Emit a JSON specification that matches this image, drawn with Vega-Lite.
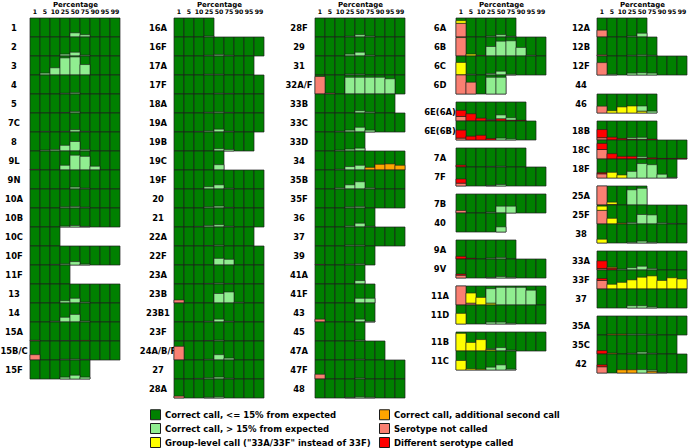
{
"$schema": "https://vega.github.io/schema/vega-lite/v6.json",
"padding": {"left": -2, "top": 0, "right": 0, "bottom": 0},
"config": {"font": "DejaVu Sans", "view": {"stroke": null}},
"datasets": {"cells": [
{"k":"A","s":"1","p":"1"},{"k":"A","s":"1","p":"5"},{"k":"A","s":"1","p":"10"},{"k":"A","s":"1","p":"25"},{"k":"A","s":"1","p":"50","e":0.22},{"k":"A","s":"1","p":"75","e":0.12},{"k":"A","s":"1","p":"90"},{"k":"A","s":"1","p":"95"},{"k":"A","s":"1","p":"99"},
{"k":"A","s":"2","p":"1"},{"k":"A","s":"2","p":"5"},{"k":"A","s":"2","p":"10"},{"k":"A","s":"2","p":"25","e":0.1},{"k":"A","s":"2","p":"50","e":0.2},{"k":"A","s":"2","p":"75","e":0.05},{"k":"A","s":"2","p":"90"},{"k":"A","s":"2","p":"95"},{"k":"A","s":"2","p":"99"},
{"k":"A","s":"3","p":"1"},{"k":"A","s":"3","p":"5","e":0.1},{"k":"A","s":"3","p":"10","e":0.38},{"k":"A","s":"3","p":"25","e":0.9},{"k":"A","s":"3","p":"50","e":0.95},{"k":"A","s":"3","p":"75","e":0.55},{"k":"A","s":"3","p":"90"},{"k":"A","s":"3","p":"95"},{"k":"A","s":"3","p":"99"},
{"k":"A","s":"4","p":"1"},{"k":"A","s":"4","p":"5"},{"k":"A","s":"4","p":"10"},{"k":"A","s":"4","p":"25","e":0.04},{"k":"A","s":"4","p":"50","e":0.07},{"k":"A","s":"4","p":"75"},{"k":"A","s":"4","p":"90"},{"k":"A","s":"4","p":"95"},{"k":"A","s":"4","p":"99"},
{"k":"A","s":"5","p":"1"},{"k":"A","s":"5","p":"5"},{"k":"A","s":"5","p":"10"},{"k":"A","s":"5","p":"25","e":0.02},{"k":"A","s":"5","p":"50","e":0.08},{"k":"A","s":"5","p":"75"},{"k":"A","s":"5","p":"90"},{"k":"A","s":"5","p":"95"},{"k":"A","s":"5","p":"99"},
{"k":"A","s":"7C","p":"1"},{"k":"A","s":"7C","p":"5","e":0.03},{"k":"A","s":"7C","p":"10"},{"k":"A","s":"7C","p":"25","e":0.03},{"k":"A","s":"7C","p":"50","e":0.12},{"k":"A","s":"7C","p":"75","e":0.03},{"k":"A","s":"7C","p":"90"},{"k":"A","s":"7C","p":"95"},{"k":"A","s":"7C","p":"99"},
{"k":"A","s":"8","p":"1"},{"k":"A","s":"8","p":"5","e":0.05},{"k":"A","s":"8","p":"10","e":0.08},{"k":"A","s":"8","p":"25","e":0.3},{"k":"A","s":"8","p":"50","e":0.5},{"k":"A","s":"8","p":"75","e":0.08},{"k":"A","s":"8","p":"90"},{"k":"A","s":"8","p":"95"},{"k":"A","s":"8","p":"99"},
{"k":"A","s":"9L","p":"1","a":0.03},{"k":"A","s":"9L","p":"5"},{"k":"A","s":"9L","p":"10"},{"k":"A","s":"9L","p":"25","e":0.25},{"k":"A","s":"9L","p":"50","e":0.78},{"k":"A","s":"9L","p":"75","e":0.72},{"k":"A","s":"9L","p":"90","e":0.2},{"k":"A","s":"9L","p":"95"},{"k":"A","s":"9L","p":"99"},
{"k":"A","s":"9N","p":"1"},{"k":"A","s":"9N","p":"5"},{"k":"A","s":"9N","p":"10"},{"k":"A","s":"9N","p":"25"},{"k":"A","s":"9N","p":"50","e":0.1},{"k":"A","s":"9N","p":"75","e":0.04},{"k":"A","s":"9N","p":"90"},{"k":"A","s":"9N","p":"95"},{"k":"A","s":"9N","p":"99"},
{"k":"A","s":"10A","p":"1"},{"k":"A","s":"10A","p":"5"},{"k":"A","s":"10A","p":"10"},{"k":"A","s":"10A","p":"25","e":0.06},{"k":"A","s":"10A","p":"50","e":0.08},{"k":"A","s":"10A","p":"75","e":0.04},{"k":"A","s":"10A","p":"90"},{"k":"A","s":"10A","p":"95"},{"k":"A","s":"10A","p":"99"},
{"k":"A","s":"10B","p":"1"},{"k":"A","s":"10B","p":"5"},{"k":"A","s":"10B","p":"10"},{"k":"A","s":"10B","p":"25","e":0.05},{"k":"A","s":"10B","p":"50","e":0.08},{"k":"A","s":"10B","p":"75","e":0.03},{"k":"A","s":"10B","p":"90"},{"k":"A","s":"10B","p":"95"},{"k":"A","s":"10B","p":"99"},
{"k":"A","s":"10C","p":"1"},{"k":"A","s":"10C","p":"5"},{"k":"A","s":"10C","p":"10"},
{"k":"A","s":"10F","p":"1"},{"k":"A","s":"10F","p":"5"},{"k":"A","s":"10F","p":"10","e":0.03},{"k":"A","s":"10F","p":"25","e":0.06},{"k":"A","s":"10F","p":"50","e":0.18},{"k":"A","s":"10F","p":"75","e":0.05},{"k":"A","s":"10F","p":"90"},{"k":"A","s":"10F","p":"95"},{"k":"A","s":"10F","p":"99"},
{"k":"A","s":"11F","p":"1"},{"k":"A","s":"11F","p":"5"},{"k":"A","s":"11F","p":"10"},{"k":"A","s":"11F","p":"25"},
{"k":"A","s":"13","p":"1"},{"k":"A","s":"13","p":"5"},{"k":"A","s":"13","p":"10"},{"k":"A","s":"13","p":"25","e":0.12},{"k":"A","s":"13","p":"50","e":0.25},{"k":"A","s":"13","p":"75","e":0.05},{"k":"A","s":"13","p":"90"},{"k":"A","s":"13","p":"95"},{"k":"A","s":"13","p":"99"},
{"k":"A","s":"14","p":"1"},{"k":"A","s":"14","p":"5"},{"k":"A","s":"14","p":"10","e":0.04},{"k":"A","s":"14","p":"25","e":0.25},{"k":"A","s":"14","p":"50","e":0.4},{"k":"A","s":"14","p":"75","e":0.05},{"k":"A","s":"14","p":"90"},{"k":"A","s":"14","p":"95"},{"k":"A","s":"14","p":"99"},
{"k":"A","s":"15A","p":"1","a":0.04},{"k":"A","s":"15A","p":"5"},{"k":"A","s":"15A","p":"10"},{"k":"A","s":"15A","p":"25","e":0.02},{"k":"A","s":"15A","p":"50","e":0.02},{"k":"A","s":"15A","p":"75","c":0.03},{"k":"A","s":"15A","p":"90"},{"k":"A","s":"15A","p":"95"},{"k":"A","s":"15A","p":"99"},
{"k":"A","s":"15B/C","p":"1","a":0.28},{"k":"A","s":"15B/C","p":"5"},{"k":"A","s":"15B/C","p":"10"},{"k":"A","s":"15B/C","p":"25","e":0.04},{"k":"A","s":"15B/C","p":"50","e":0.05},{"k":"A","s":"15B/C","p":"75","e":0.03},{"k":"A","s":"15B/C","p":"90"},{"k":"A","s":"15B/C","p":"95"},{"k":"A","s":"15B/C","p":"99"},
{"k":"A","s":"15F","p":"1"},{"k":"A","s":"15F","p":"5"},{"k":"A","s":"15F","p":"10"},{"k":"A","s":"15F","p":"25","e":0.1},{"k":"A","s":"15F","p":"50","e":0.2},{"k":"A","s":"15F","p":"75","e":0.1},
{"k":"B","s":"16A","p":"1"},{"k":"B","s":"16A","p":"5"},{"k":"B","s":"16A","p":"10"},{"k":"B","s":"16A","p":"25","e":0.05},
{"k":"B","s":"16F","p":"1"},{"k":"B","s":"16F","p":"5"},{"k":"B","s":"16F","p":"10"},{"k":"B","s":"16F","p":"25","e":0.04},{"k":"B","s":"16F","p":"50","e":0.08},{"k":"B","s":"16F","p":"75","e":0.04},{"k":"B","s":"16F","p":"90"},{"k":"B","s":"16F","p":"95"},{"k":"B","s":"16F","p":"99"},
{"k":"B","s":"17A","p":"1"},{"k":"B","s":"17A","p":"5"},{"k":"B","s":"17A","p":"10"},{"k":"B","s":"17A","p":"25","e":0.04},{"k":"B","s":"17A","p":"50","e":0.04},{"k":"B","s":"17A","p":"75"},{"k":"B","s":"17A","p":"90"},{"k":"B","s":"17A","p":"95"},
{"k":"B","s":"17F","p":"1"},{"k":"B","s":"17F","p":"5"},{"k":"B","s":"17F","p":"10"},{"k":"B","s":"17F","p":"25"},{"k":"B","s":"17F","p":"50","e":0.04},{"k":"B","s":"17F","p":"75","e":0.03},{"k":"B","s":"17F","p":"90"},{"k":"B","s":"17F","p":"95"},{"k":"B","s":"17F","p":"99"},
{"k":"B","s":"18A","p":"1"},{"k":"B","s":"18A","p":"5"},{"k":"B","s":"18A","p":"10"},{"k":"B","s":"18A","p":"25","e":0.04},{"k":"B","s":"18A","p":"50","e":0.06},{"k":"B","s":"18A","p":"75","e":0.03},{"k":"B","s":"18A","p":"90"},{"k":"B","s":"18A","p":"95"},{"k":"B","s":"18A","p":"99"},
{"k":"B","s":"19A","p":"1"},{"k":"B","s":"19A","p":"5"},{"k":"B","s":"19A","p":"10","e":0.03},{"k":"B","s":"19A","p":"25","e":0.06},{"k":"B","s":"19A","p":"50","e":0.15},{"k":"B","s":"19A","p":"75","e":0.04},{"k":"B","s":"19A","p":"90"},{"k":"B","s":"19A","p":"95"},{"k":"B","s":"19A","p":"99"},
{"k":"B","s":"19B","p":"1"},{"k":"B","s":"19B","p":"5"},{"k":"B","s":"19B","p":"10"},{"k":"B","s":"19B","p":"25"},{"k":"B","s":"19B","p":"50","e":0.12},{"k":"B","s":"19B","p":"75","e":0.08},{"k":"B","s":"19B","p":"90"},{"k":"B","s":"19B","p":"95"},
{"k":"B","s":"19C","p":"1"},{"k":"B","s":"19C","p":"5"},{"k":"B","s":"19C","p":"10"},{"k":"B","s":"19C","p":"25"},{"k":"B","s":"19C","p":"50","e":0.28},
{"k":"B","s":"19F","p":"1"},{"k":"B","s":"19F","p":"5"},{"k":"B","s":"19F","p":"10"},{"k":"B","s":"19F","p":"25","e":0.12},{"k":"B","s":"19F","p":"50","e":0.22},{"k":"B","s":"19F","p":"75","e":0.04},{"k":"B","s":"19F","p":"90"},{"k":"B","s":"19F","p":"95"},{"k":"B","s":"19F","p":"99"},
{"k":"B","s":"20","p":"1"},{"k":"B","s":"20","p":"5"},{"k":"B","s":"20","p":"10"},{"k":"B","s":"20","p":"25","e":0.06},{"k":"B","s":"20","p":"50","e":0.1},{"k":"B","s":"20","p":"75","e":0.03},{"k":"B","s":"20","p":"90"},{"k":"B","s":"20","p":"95"},{"k":"B","s":"20","p":"99"},
{"k":"B","s":"21","p":"1"},{"k":"B","s":"21","p":"5"},{"k":"B","s":"21","p":"10","e":0.03},{"k":"B","s":"21","p":"25","e":0.08},{"k":"B","s":"21","p":"50","e":0.12},{"k":"B","s":"21","p":"75","e":0.04},{"k":"B","s":"21","p":"90"},{"k":"B","s":"21","p":"95"},{"k":"B","s":"21","p":"99"},
{"k":"B","s":"22A","p":"1"},{"k":"B","s":"22A","p":"5"},{"k":"B","s":"22A","p":"10"},{"k":"B","s":"22A","p":"25","e":0.02},{"k":"B","s":"22A","p":"50","e":0.05},{"k":"B","s":"22A","p":"75"},{"k":"B","s":"22A","p":"90"},{"k":"B","s":"22A","p":"95"},
{"k":"B","s":"22F","p":"1"},{"k":"B","s":"22F","p":"5"},{"k":"B","s":"22F","p":"10"},{"k":"B","s":"22F","p":"25"},{"k":"B","s":"22F","p":"50","e":0.35},{"k":"B","s":"22F","p":"75","e":0.3},{"k":"B","s":"22F","p":"90"},{"k":"B","s":"22F","p":"95"},{"k":"B","s":"22F","p":"99"},
{"k":"B","s":"23A","p":"1"},{"k":"B","s":"23A","p":"5"},{"k":"B","s":"23A","p":"10"},{"k":"B","s":"23A","p":"25","e":0.03},{"k":"B","s":"23A","p":"50","e":0.05},{"k":"B","s":"23A","p":"75","e":0.03},{"k":"B","s":"23A","p":"90"},{"k":"B","s":"23A","p":"95"},{"k":"B","s":"23A","p":"99"},
{"k":"B","s":"23B","p":"1","a":0.16},{"k":"B","s":"23B","p":"5"},{"k":"B","s":"23B","p":"10"},{"k":"B","s":"23B","p":"25"},{"k":"B","s":"23B","p":"50","e":0.5},{"k":"B","s":"23B","p":"75","e":0.58},{"k":"B","s":"23B","p":"90","e":0.04},{"k":"B","s":"23B","p":"95"},{"k":"B","s":"23B","p":"99"},
{"k":"B","s":"23B1","p":"1"},{"k":"B","s":"23B1","p":"5"},{"k":"B","s":"23B1","p":"10"},{"k":"B","s":"23B1","p":"25","e":0.04},{"k":"B","s":"23B1","p":"50","e":0.15},{"k":"B","s":"23B1","p":"75","e":0.04},{"k":"B","s":"23B1","p":"90"},{"k":"B","s":"23B1","p":"95"},{"k":"B","s":"23B1","p":"99"},
{"k":"B","s":"23F","p":"1"},{"k":"B","s":"23F","p":"5"},{"k":"B","s":"23F","p":"10"},{"k":"B","s":"23F","p":"25","e":0.02},{"k":"B","s":"23F","p":"50","e":0.05},{"k":"B","s":"23F","p":"75"},{"k":"B","s":"23F","p":"90"},{"k":"B","s":"23F","p":"95"},{"k":"B","s":"23F","p":"99"},
{"k":"B","s":"24A/B/F","p":"1","a":0.72},{"k":"B","s":"24A/B/F","p":"5"},{"k":"B","s":"24A/B/F","p":"10"},{"k":"B","s":"24A/B/F","p":"25","e":0.04},{"k":"B","s":"24A/B/F","p":"50","e":0.28},{"k":"B","s":"24A/B/F","p":"75","e":0.1},{"k":"B","s":"24A/B/F","p":"90"},{"k":"B","s":"24A/B/F","p":"95"},{"k":"B","s":"24A/B/F","p":"99"},
{"k":"B","s":"27","p":"1"},{"k":"B","s":"27","p":"5"},{"k":"B","s":"27","p":"10","e":0.03},{"k":"B","s":"27","p":"25","e":0.06},{"k":"B","s":"27","p":"50","e":0.1},{"k":"B","s":"27","p":"75","e":0.04},{"k":"B","s":"27","p":"90"},{"k":"B","s":"27","p":"95"},{"k":"B","s":"27","p":"99"},
{"k":"B","s":"28A","p":"1","a":0.1},{"k":"B","s":"28A","p":"5"},{"k":"B","s":"28A","p":"10"},{"k":"B","s":"28A","p":"25","e":0.04},{"k":"B","s":"28A","p":"50","e":0.06},{"k":"B","s":"28A","p":"75"},{"k":"B","s":"28A","p":"90"},{"k":"B","s":"28A","p":"95"},{"k":"B","s":"28A","p":"99"},
{"k":"C","s":"28F","p":"1"},{"k":"C","s":"28F","p":"5"},{"k":"C","s":"28F","p":"10"},{"k":"C","s":"28F","p":"25","e":0.04},{"k":"C","s":"28F","p":"50","e":0.12},{"k":"C","s":"28F","p":"75","e":0.05},{"k":"C","s":"28F","p":"90"},{"k":"C","s":"28F","p":"95"},{"k":"C","s":"28F","p":"99"},
{"k":"C","s":"29","p":"1"},{"k":"C","s":"29","p":"5"},{"k":"C","s":"29","p":"10"},{"k":"C","s":"29","p":"25","e":0.1},{"k":"C","s":"29","p":"50","e":0.2},{"k":"C","s":"29","p":"75","e":0.05},{"k":"C","s":"29","p":"90"},{"k":"C","s":"29","p":"95"},{"k":"C","s":"29","p":"99"},
{"k":"C","s":"31","p":"1"},{"k":"C","s":"31","p":"5"},{"k":"C","s":"31","p":"10"},{"k":"C","s":"31","p":"25","e":0.05},{"k":"C","s":"31","p":"50","e":0.05},{"k":"C","s":"31","p":"75"},{"k":"C","s":"31","p":"90"},{"k":"C","s":"31","p":"95"},{"k":"C","s":"31","p":"99"},
{"k":"C","s":"32A/F","p":"1","a":0.92},{"k":"C","s":"32A/F","p":"5","a":0.05},{"k":"C","s":"32A/F","p":"10"},{"k":"C","s":"32A/F","p":"25","e":0.88},{"k":"C","s":"32A/F","p":"50","e":0.88},{"k":"C","s":"32A/F","p":"75","e":0.88},{"k":"C","s":"32A/F","p":"90","e":0.88},{"k":"C","s":"32A/F","p":"95","e":0.8},{"k":"C","s":"32A/F","p":"99"},
{"k":"C","s":"33B","p":"1"},{"k":"C","s":"33B","p":"5"},{"k":"C","s":"33B","p":"10"},{"k":"C","s":"33B","p":"25"},{"k":"C","s":"33B","p":"50","e":0.12},{"k":"C","s":"33B","p":"75","e":0.06},{"k":"C","s":"33B","p":"90"},{"k":"C","s":"33B","p":"95"},
{"k":"C","s":"33C","p":"1"},{"k":"C","s":"33C","p":"5"},{"k":"C","s":"33C","p":"10","e":0.04},{"k":"C","s":"33C","p":"25","e":0.1},{"k":"C","s":"33C","p":"50","e":0.25},{"k":"C","s":"33C","p":"75","e":0.1},{"k":"C","s":"33C","p":"90"},{"k":"C","s":"33C","p":"95"},{"k":"C","s":"33C","p":"99"},
{"k":"C","s":"33D","p":"1"},{"k":"C","s":"33D","p":"5"},{"k":"C","s":"33D","p":"10","e":0.05},{"k":"C","s":"33D","p":"25","e":0.1},{"k":"C","s":"33D","p":"50","e":0.15},
{"k":"C","s":"34","p":"1"},{"k":"C","s":"34","p":"5"},{"k":"C","s":"34","p":"10","e":0.04},{"k":"C","s":"34","p":"25","e":0.18},{"k":"C","s":"34","p":"50","e":0.25},{"k":"C","s":"34","p":"75","c":0.14},{"k":"C","s":"34","p":"90","c":0.3},{"k":"C","s":"34","p":"95","c":0.32},{"k":"C","s":"34","p":"99","c":0.25},
{"k":"C","s":"35B","p":"1"},{"k":"C","s":"35B","p":"5"},{"k":"C","s":"35B","p":"10","e":0.06},{"k":"C","s":"35B","p":"25","e":0.22},{"k":"C","s":"35B","p":"50","e":0.38},{"k":"C","s":"35B","p":"75","e":0.06},{"k":"C","s":"35B","p":"90"},{"k":"C","s":"35B","p":"95"},{"k":"C","s":"35B","p":"99"},
{"k":"C","s":"35F","p":"1"},{"k":"C","s":"35F","p":"5"},{"k":"C","s":"35F","p":"10"},{"k":"C","s":"35F","p":"25","e":0.06},{"k":"C","s":"35F","p":"50","e":0.08},{"k":"C","s":"35F","p":"75"},{"k":"C","s":"35F","p":"90"},{"k":"C","s":"35F","p":"95"},{"k":"C","s":"35F","p":"99"},
{"k":"C","s":"36","p":"1"},{"k":"C","s":"36","p":"5"},{"k":"C","s":"36","p":"10"},{"k":"C","s":"36","p":"25","e":0.06},{"k":"C","s":"36","p":"50","e":0.2},{"k":"C","s":"36","p":"75","e":0.04},
{"k":"C","s":"37","p":"1"},{"k":"C","s":"37","p":"5"},{"k":"C","s":"37","p":"10"},{"k":"C","s":"37","p":"25","e":0.05},{"k":"C","s":"37","p":"50","e":0.05},{"k":"C","s":"37","p":"75"},{"k":"C","s":"37","p":"90"},{"k":"C","s":"37","p":"95"},{"k":"C","s":"37","p":"99"},
{"k":"C","s":"39","p":"1","a":0.03},{"k":"C","s":"39","p":"5"},{"k":"C","s":"39","p":"10"},{"k":"C","s":"39","p":"25","e":0.04},{"k":"C","s":"39","p":"50","e":0.06},{"k":"C","s":"39","p":"75"},
{"k":"C","s":"41A","p":"1"},{"k":"C","s":"41A","p":"5"},{"k":"C","s":"41A","p":"10"},{"k":"C","s":"41A","p":"25"},{"k":"C","s":"41A","p":"50","e":0.18},
{"k":"C","s":"41F","p":"1"},{"k":"C","s":"41F","p":"5"},{"k":"C","s":"41F","p":"10"},{"k":"C","s":"41F","p":"25"},{"k":"C","s":"41F","p":"50","e":0.25},{"k":"C","s":"41F","p":"75","e":0.25},
{"k":"C","s":"43","p":"1","a":0.15},{"k":"C","s":"43","p":"5"},{"k":"C","s":"43","p":"10"},{"k":"C","s":"43","p":"25"},{"k":"C","s":"43","p":"50","e":0.15},{"k":"C","s":"43","p":"75","e":0.04},
{"k":"C","s":"45","p":"1"},{"k":"C","s":"45","p":"5"},{"k":"C","s":"45","p":"10"},{"k":"C","s":"45","p":"25"},{"k":"C","s":"45","p":"50","e":0.05},
{"k":"C","s":"47A","p":"1"},{"k":"C","s":"47A","p":"5"},{"k":"C","s":"47A","p":"10"},{"k":"C","s":"47A","p":"25","e":0.02},{"k":"C","s":"47A","p":"50","e":0.04},{"k":"C","s":"47A","p":"75"},{"k":"C","s":"47A","p":"90"},
{"k":"C","s":"47F","p":"1","a":0.25},{"k":"C","s":"47F","p":"5"},{"k":"C","s":"47F","p":"10"},{"k":"C","s":"47F","p":"25"},{"k":"C","s":"47F","p":"50","e":0.05},{"k":"C","s":"47F","p":"75"},{"k":"C","s":"47F","p":"90"},{"k":"C","s":"47F","p":"95"},{"k":"C","s":"47F","p":"99"},
{"k":"C","s":"48","p":"1"},{"k":"C","s":"48","p":"5"},{"k":"C","s":"48","p":"10"},{"k":"C","s":"48","p":"25","e":0.03},{"k":"C","s":"48","p":"50","e":0.06},{"k":"C","s":"48","p":"75","e":0.04},{"k":"C","s":"48","p":"90"},{"k":"C","s":"48","p":"95"},{"k":"C","s":"48","p":"99"},
{"k":"D1","s":"6A","p":"1","a":0.72,"d":0.14},{"k":"D1","s":"6A","p":"5"},{"k":"D1","s":"6A","p":"10"},{"k":"D1","s":"6A","p":"25","e":0.05},{"k":"D1","s":"6A","p":"50","e":0.12},{"k":"D1","s":"6A","p":"75","e":0.04},
{"k":"D1","s":"6B","p":"1","a":0.97},{"k":"D1","s":"6B","p":"5","d":0.1},{"k":"D1","s":"6B","p":"10","a":0.03},{"k":"D1","s":"6B","p":"25","e":0.5},{"k":"D1","s":"6B","p":"50","e":0.78},{"k":"D1","s":"6B","p":"75","e":0.8},{"k":"D1","s":"6B","p":"90","e":0.45},{"k":"D1","s":"6B","p":"95","e":0.04},{"k":"D1","s":"6B","p":"99"},
{"k":"D1","s":"6C","p":"1","d":0.66},{"k":"D1","s":"6C","p":"5","e":0.04},{"k":"D1","s":"6C","p":"10"},{"k":"D1","s":"6C","p":"25","e":0.08},{"k":"D1","s":"6C","p":"50","e":0.2},{"k":"D1","s":"6C","p":"75","e":0.04},{"k":"D1","s":"6C","p":"90"},{"k":"D1","s":"6C","p":"95"},{"k":"D1","s":"6C","p":"99"},
{"k":"D1","s":"6D","p":"1","a":1},{"k":"D1","s":"6D","p":"5","a":0.62},{"k":"D1","s":"6D","p":"10"},{"k":"D1","s":"6D","p":"25","e":0.88},{"k":"D1","s":"6D","p":"50","e":0.88},
{"k":"D2","s":"6E(6A)","p":"1","a":0.24,"b":0.32},{"k":"D2","s":"6E(6A)","p":"5","b":0.38},{"k":"D2","s":"6E(6A)","p":"10","b":0.15},{"k":"D2","s":"6E(6A)","p":"25","b":0.05,"e":0.03},{"k":"D2","s":"6E(6A)","p":"50","b":0.12,"e":0.2},{"k":"D2","s":"6E(6A)","p":"75","b":0.05,"e":0.12},{"k":"D2","s":"6E(6A)","p":"90","b":0.04},
{"k":"D2","s":"6E(6B)","p":"1","a":0.1,"b":0.42},{"k":"D2","s":"6E(6B)","p":"5","b":0.2},{"k":"D2","s":"6E(6B)","p":"10","b":0.25},{"k":"D2","s":"6E(6B)","p":"25","b":0.08},{"k":"D2","s":"6E(6B)","p":"50","e":0.1},{"k":"D2","s":"6E(6B)","p":"75","e":0.06},{"k":"D2","s":"6E(6B)","p":"90"},{"k":"D2","s":"6E(6B)","p":"95"},
{"k":"D3","s":"7A","p":"1","b":0.1},{"k":"D3","s":"7A","p":"5"},{"k":"D3","s":"7A","p":"10"},{"k":"D3","s":"7A","p":"25","e":0.03},{"k":"D3","s":"7A","p":"50","e":0.04},{"k":"D3","s":"7A","p":"75"},{"k":"D3","s":"7A","p":"90"},
{"k":"D3","s":"7F","p":"1","a":0.15,"b":0.22},{"k":"D3","s":"7F","p":"5"},{"k":"D3","s":"7F","p":"10"},{"k":"D3","s":"7F","p":"25","e":0.03},{"k":"D3","s":"7F","p":"50","e":0.08},{"k":"D3","s":"7F","p":"75"},{"k":"D3","s":"7F","p":"90"},{"k":"D3","s":"7F","p":"95"},{"k":"D3","s":"7F","p":"99"},
{"k":"D4","s":"7B","p":"1","a":0.13},{"k":"D4","s":"7B","p":"5"},{"k":"D4","s":"7B","p":"10"},{"k":"D4","s":"7B","p":"25","e":0.05},{"k":"D4","s":"7B","p":"50","e":0.36},{"k":"D4","s":"7B","p":"75","e":0.36},{"k":"D4","s":"7B","p":"90"},{"k":"D4","s":"7B","p":"95"},{"k":"D4","s":"7B","p":"99"},
{"k":"D4","s":"40","p":"1"},{"k":"D4","s":"40","p":"5"},{"k":"D4","s":"40","p":"10"},{"k":"D4","s":"40","p":"25"},{"k":"D4","s":"40","p":"50","e":0.27},
{"k":"D5","s":"9A","p":"1","b":0.14},{"k":"D5","s":"9A","p":"5","b":0.04},{"k":"D5","s":"9A","p":"10"},{"k":"D5","s":"9A","p":"25","e":0.05},{"k":"D5","s":"9A","p":"50","e":0.08},{"k":"D5","s":"9A","p":"75"},
{"k":"D5","s":"9V","p":"1","a":0.15,"b":0.06},{"k":"D5","s":"9V","p":"5"},{"k":"D5","s":"9V","p":"10"},{"k":"D5","s":"9V","p":"25","e":0.03},{"k":"D5","s":"9V","p":"50","e":0.08},{"k":"D5","s":"9V","p":"75","e":0.04},{"k":"D5","s":"9V","p":"90"},{"k":"D5","s":"9V","p":"95"},{"k":"D5","s":"9V","p":"99"},
{"k":"D6","s":"11A","p":"1","a":1},{"k":"D6","s":"11A","p":"5","a":0.1,"d":0.53},{"k":"D6","s":"11A","p":"10","d":0.4},{"k":"D6","s":"11A","p":"25","d":0.1,"e":0.76},{"k":"D6","s":"11A","p":"50","e":0.93},{"k":"D6","s":"11A","p":"75","e":0.93},{"k":"D6","s":"11A","p":"90","e":0.93},{"k":"D6","s":"11A","p":"95","e":0.78},{"k":"D6","s":"11A","p":"99"},
{"k":"D6","s":"11D","p":"1","d":0.56},{"k":"D6","s":"11D","p":"5"},{"k":"D6","s":"11D","p":"10"},{"k":"D6","s":"11D","p":"25","e":0.1},{"k":"D6","s":"11D","p":"50","e":0.1},{"k":"D6","s":"11D","p":"75","e":0.04},{"k":"D6","s":"11D","p":"90"},{"k":"D6","s":"11D","p":"95"},{"k":"D6","s":"11D","p":"99"},
{"k":"D7","s":"11B","p":"1","d":0.93},{"k":"D7","s":"11B","p":"5","d":0.45},{"k":"D7","s":"11B","p":"10","d":0.6},{"k":"D7","s":"11B","p":"25","d":0.08,"e":0.04},{"k":"D7","s":"11B","p":"50","e":0.18},{"k":"D7","s":"11B","p":"75","e":0.05},{"k":"D7","s":"11B","p":"90"},{"k":"D7","s":"11B","p":"95"},{"k":"D7","s":"11B","p":"99"},
{"k":"D7","s":"11C","p":"1","d":0.5},{"k":"D7","s":"11C","p":"5","d":0.06},{"k":"D7","s":"11C","p":"10","d":0.04},{"k":"D7","s":"11C","p":"25","e":0.15},{"k":"D7","s":"11C","p":"50","e":0.27},{"k":"D7","s":"11C","p":"75","e":0.05},
{"k":"E1","s":"12A","p":"1","a":0.36},{"k":"E1","s":"12A","p":"5"},{"k":"E1","s":"12A","p":"10"},{"k":"E1","s":"12A","p":"25","e":0.05},{"k":"E1","s":"12A","p":"50","e":0.2},
{"k":"E1","s":"12B","p":"1","a":0.06},{"k":"E1","s":"12B","p":"5"},{"k":"E1","s":"12B","p":"10"},{"k":"E1","s":"12B","p":"25","e":0.04},{"k":"E1","s":"12B","p":"50","e":0.06},{"k":"E1","s":"12B","p":"75","e":0.04},
{"k":"E1","s":"12F","p":"1","a":0.65},{"k":"E1","s":"12F","p":"5","e":0.04},{"k":"E1","s":"12F","p":"10"},{"k":"E1","s":"12F","p":"25","e":0.1},{"k":"E1","s":"12F","p":"50","e":0.12},{"k":"E1","s":"12F","p":"75","e":0.1},{"k":"E1","s":"12F","p":"90"},{"k":"E1","s":"12F","p":"95"},{"k":"E1","s":"12F","p":"99"},
{"k":"E1","s":"44"},
{"k":"E1","s":"46","p":"1","a":0.36},{"k":"E1","s":"46","p":"5","d":0.12},{"k":"E1","s":"46","p":"10","d":0.32},{"k":"E1","s":"46","p":"25","d":0.37},{"k":"E1","s":"46","p":"50","d":0.1,"e":0.27},{"k":"E1","s":"46","p":"75","e":0.1},
{"k":"E2","s":"18B","p":"1","a":0.12,"b":0.43},{"k":"E2","s":"18B","p":"5","b":0.15},{"k":"E2","s":"18B","p":"10","b":0.08},{"k":"E2","s":"18B","p":"25","b":0.05,"e":0.08},{"k":"E2","s":"18B","p":"50","b":0.04,"e":0.1},{"k":"E2","s":"18B","p":"75","b":0.05},
{"k":"E2","s":"18C","p":"1","a":0.5,"b":0.32},{"k":"E2","s":"18C","p":"5","b":0.28},{"k":"E2","s":"18C","p":"10","b":0.14},{"k":"E2","s":"18C","p":"25","b":0.14},{"k":"E2","s":"18C","p":"50","b":0.04,"e":0.08},{"k":"E2","s":"18C","p":"75","b":0.06},{"k":"E2","s":"18C","p":"90","b":0.03},{"k":"E2","s":"18C","p":"95","b":0.03},{"k":"E2","s":"18C","p":"99","b":0.03},
{"k":"E2","s":"18F","p":"1","a":0.22,"b":0.06},{"k":"E2","s":"18F","p":"5","d":0.3},{"k":"E2","s":"18F","p":"10","d":0.16},{"k":"E2","s":"18F","p":"25","e":0.35},{"k":"E2","s":"18F","p":"50","e":0.76},{"k":"E2","s":"18F","p":"75","e":0.7},{"k":"E2","s":"18F","p":"90","e":0.2},{"k":"E2","s":"18F","p":"95","e":0.03},
{"k":"E3","s":"25A","p":"1","a":1},{"k":"E3","s":"25A","p":"5","b":0.03,"d":0.12},{"k":"E3","s":"25A","p":"10"},{"k":"E3","s":"25A","p":"25","e":0.8},{"k":"E3","s":"25A","p":"50","e":0.88},
{"k":"E3","s":"25F","p":"1","a":0.72,"d":0.22},{"k":"E3","s":"25F","p":"5","d":0.3},{"k":"E3","s":"25F","p":"10","c":0.05},{"k":"E3","s":"25F","p":"25","e":0.08},{"k":"E3","s":"25F","p":"50","e":0.5},{"k":"E3","s":"25F","p":"75","e":0.48},{"k":"E3","s":"25F","p":"90","e":0.06},{"k":"E3","s":"25F","p":"95","e":0.03},{"k":"E3","s":"25F","p":"99"},
{"k":"E3","s":"38","p":"1","d":0.2},{"k":"E3","s":"38","p":"5"},{"k":"E3","s":"38","p":"10"},{"k":"E3","s":"38","p":"25","e":0.04},{"k":"E3","s":"38","p":"50","e":0.1},{"k":"E3","s":"38","p":"75","e":0.04},{"k":"E3","s":"38","p":"90"},{"k":"E3","s":"38","p":"95"},{"k":"E3","s":"38","p":"99"},
{"k":"E4","s":"33A","p":"1","a":0.08,"b":0.4},{"k":"E4","s":"33A","p":"5","b":0.1,"c":0.05},{"k":"E4","s":"33A","p":"10","e":0.05},{"k":"E4","s":"33A","p":"25","e":0.12},{"k":"E4","s":"33A","p":"50","e":0.2},{"k":"E4","s":"33A","p":"75","e":0.08},{"k":"E4","s":"33A","p":"90"},{"k":"E4","s":"33A","p":"95"},{"k":"E4","s":"33A","p":"99"},
{"k":"E4","s":"33F","p":"1","a":0.45,"b":0.1},{"k":"E4","s":"33F","p":"5","d":0.25},{"k":"E4","s":"33F","p":"10","d":0.35},{"k":"E4","s":"33F","p":"25","d":0.48},{"k":"E4","s":"33F","p":"50","d":0.62},{"k":"E4","s":"33F","p":"75","d":0.69},{"k":"E4","s":"33F","p":"90","d":0.45},{"k":"E4","s":"33F","p":"95","d":0.59},{"k":"E4","s":"33F","p":"99","d":0.53},
{"k":"E4","s":"37","p":"1"},{"k":"E4","s":"37","p":"5"},{"k":"E4","s":"37","p":"10"},{"k":"E4","s":"37","p":"25","e":0.12},{"k":"E4","s":"37","p":"50","e":0.12},{"k":"E4","s":"37","p":"75","e":0.06},{"k":"E4","s":"37","p":"90"},{"k":"E4","s":"37","p":"95"},{"k":"E4","s":"37","p":"99"},
{"k":"E5","s":"35A","p":"1"},{"k":"E5","s":"35A","p":"5","c":0.05},{"k":"E5","s":"35A","p":"10","c":0.05},{"k":"E5","s":"35A","p":"25","e":0.05},{"k":"E5","s":"35A","p":"50","e":0.05},{"k":"E5","s":"35A","p":"75","e":0.04},{"k":"E5","s":"35A","p":"90"},{"k":"E5","s":"35A","p":"95"},{"k":"E5","s":"35A","p":"99"},
{"k":"E5","s":"35C","p":"1","b":0.18},{"k":"E5","s":"35C","p":"5","c":0.05},{"k":"E5","s":"35C","p":"10"},{"k":"E5","s":"35C","p":"25","e":0.04},{"k":"E5","s":"35C","p":"50","e":0.1},{"k":"E5","s":"35C","p":"75","e":0.04},{"k":"E5","s":"35C","p":"90"},{"k":"E5","s":"35C","p":"95"},
{"k":"E5","s":"42","p":"1","a":0.33,"b":0.1},{"k":"E5","s":"42","p":"5"},{"k":"E5","s":"42","p":"10","c":0.17},{"k":"E5","s":"42","p":"25","c":0.17},{"k":"E5","s":"42","p":"50","e":0.18},{"k":"E5","s":"42","p":"75","c":0.1,"e":0.06},{"k":"E5","s":"42","p":"90","e":0.03},{"k":"E5","s":"42","p":"95"},{"k":"E5","s":"42","p":"99"}
]},
"spacing": 18,
"hconcat": [
{"spacing": 0, "vconcat": [
 {"spacing": 0, "bounds": "flush", "hconcat": [
  {"width": 32, "height": 1, "data": {"values": []}, "mark": {"type": "point", "opacity": 0}},
  {"width": 90, "height": 1, "data": {"name": "cells"}, "transform": [{"filter": "datum.k=='A'"}], "mark": {"type": "tick", "opacity": 0}, "encoding": {"x": {"field": "p", "type": "ordinal", "scale": {"domain": ["1","5","10","25","50","75","90","95","99"], "paddingInner": 0, "paddingOuter": 0}, "axis": {"orient": "top", "title": "Percentage", "titleFontSize": 7, "titleFontWeight": "bold", "titleColor": "black", "titlePadding": 1, "labelFontSize": 6.2, "labelFontWeight": "bold", "labelColor": "black", "labelAngle": 0, "labelPadding": 2, "ticks": false, "domain": false}}}}
 ]},
 {"spacing": 6, "vconcat": [
  {"spacing": 0, "bounds": "flush", "hconcat": [
   {"width": 32, "height": {"step": 19}, "data": {"name": "cells"}, "transform": [{"filter": "datum.k=='A'"}, {"aggregate": [{"op": "count", "as": "n"}], "groupby": ["s"]}], "mark": {"type": "text", "fontWeight": "bold", "fontSize": 8.4, "color": "black"}, "encoding": {"y": {"field": "s", "type": "nominal", "scale": {"type": "band", "domain": ["1","2","3","4","5","7C","8","9L","9N","10A","10B","10C","10F","11F","13","14","15A","15B/C","15F"], "paddingInner": 0, "paddingOuter": 0}, "axis": null}, "text": {"field": "s"}}},
   {"data": {"name": "cells"}, "transform": [{"filter": "datum.k=='A'"}], "bounds": "flush", "facet": {"row": {"field": "s", "type": "nominal", "sort": ["1","2","3","4","5","7C","8","9L","9N","10A","10B","10C","10F","11F","13","14","15A","15B/C","15F"], "header": null}}, "spacing": {"row": 0},
    "spec": {"width": 90, "height": 19, "layer": [
     {"transform": [{"filter": "isValid(datum.p)"}], "mark": {"type": "bar", "color": "#008000", "stroke": "#1c1c1c", "strokeWidth": 0.7}, "encoding": {"x": {"field": "p", "type": "ordinal", "scale": {"domain": ["1","5","10","25","50","75","90","95","99"], "paddingInner": 0, "paddingOuter": 0}, "axis": null}, "y": {"datum": 1, "type": "quantitative", "scale": {"domain": [0, 1]}, "axis": null}}},
     {"transform": [{"filter": "isValid(datum.p)"}, {"fold": ["a","b","c","d","e"], "as": ["key","val"]}, {"filter": "datum.val > 0"}], "mark": {"type": "bar", "stroke": "#1c1c1c", "strokeWidth": 0.6}, "encoding": {"x": {"field": "p", "type": "ordinal", "scale": {"domain": ["1","5","10","25","50","75","90","95","99"], "paddingInner": 0, "paddingOuter": 0}, "axis": null}, "y": {"field": "val", "type": "quantitative", "stack": "zero", "scale": {"domain": [0, 1]}, "axis": null}, "order": {"field": "key", "sort": "ascending"}, "color": {"field": "key", "type": "nominal", "scale": {"domain": ["f","e","d","c","a","b"], "range": ["#008000","#90EE90","#FFFF00","#FFA500","#FA8072","#FF0000"]},
       "legend": {"title": null, "orient": "none", "legendX": 152, "legendY": 393, "columns": 2, "symbolType": "square", "symbolSize": 100, "symbolStrokeColor": "black", "symbolStrokeWidth": 1, "labelFontSize": 8.5, "labelFontWeight": "bold", "labelColor": "black", "rowPadding": -1, "columnPadding": 6, "labelOffset": 4, "padding": 0, "labelLimit": 300, "labelExpr": "{'f':'Correct call, <= 15% from expected','e':'Correct call, > 15% from expected','d':'Group-level call (\"33A/33F\" instead of 33F)','c':'Correct call, additional second call','a':'Serotype not called','b':'Different serotype called'}[datum.label]"}}}}
    ]}}
  ]}
 ]}
]},
{"spacing": 0, "vconcat": [
 {"spacing": 0, "bounds": "flush", "hconcat": [
  {"width": 32, "height": 1, "data": {"values": []}, "mark": {"type": "point", "opacity": 0}},
  {"width": 90, "height": 1, "data": {"name": "cells"}, "transform": [{"filter": "datum.k=='B'"}], "mark": {"type": "tick", "opacity": 0}, "encoding": {"x": {"field": "p", "type": "ordinal", "scale": {"domain": ["1","5","10","25","50","75","90","95","99"], "paddingInner": 0, "paddingOuter": 0}, "axis": {"orient": "top", "title": "Percentage", "titleFontSize": 7, "titleFontWeight": "bold", "titleColor": "black", "titlePadding": 1, "labelFontSize": 6.2, "labelFontWeight": "bold", "labelColor": "black", "labelAngle": 0, "labelPadding": 2, "ticks": false, "domain": false}}}}
 ]},
 {"spacing": 6, "vconcat": [
  {"spacing": 0, "bounds": "flush", "hconcat": [
   {"width": 32, "height": {"step": 19}, "data": {"name": "cells"}, "transform": [{"filter": "datum.k=='B'"}, {"aggregate": [{"op": "count", "as": "n"}], "groupby": ["s"]}], "mark": {"type": "text", "fontWeight": "bold", "fontSize": 8.4, "color": "black"}, "encoding": {"y": {"field": "s", "type": "nominal", "scale": {"type": "band", "domain": ["16A","16F","17A","17F","18A","19A","19B","19C","19F","20","21","22A","22F","23A","23B","23B1","23F","24A/B/F","27","28A"], "paddingInner": 0, "paddingOuter": 0}, "axis": null}, "text": {"field": "s"}}},
   {"data": {"name": "cells"}, "transform": [{"filter": "datum.k=='B'"}], "bounds": "flush", "facet": {"row": {"field": "s", "type": "nominal", "sort": ["16A","16F","17A","17F","18A","19A","19B","19C","19F","20","21","22A","22F","23A","23B","23B1","23F","24A/B/F","27","28A"], "header": null}}, "spacing": {"row": 0},
    "spec": {"width": 90, "height": 19, "layer": [
     {"transform": [{"filter": "isValid(datum.p)"}], "mark": {"type": "bar", "color": "#008000", "stroke": "#1c1c1c", "strokeWidth": 0.7}, "encoding": {"x": {"field": "p", "type": "ordinal", "scale": {"domain": ["1","5","10","25","50","75","90","95","99"], "paddingInner": 0, "paddingOuter": 0}, "axis": null}, "y": {"datum": 1, "type": "quantitative", "scale": {"domain": [0, 1]}, "axis": null}}},
     {"transform": [{"filter": "isValid(datum.p)"}, {"fold": ["a","b","c","d","e"], "as": ["key","val"]}, {"filter": "datum.val > 0"}], "mark": {"type": "bar", "stroke": "#1c1c1c", "strokeWidth": 0.6}, "encoding": {"x": {"field": "p", "type": "ordinal", "scale": {"domain": ["1","5","10","25","50","75","90","95","99"], "paddingInner": 0, "paddingOuter": 0}, "axis": null}, "y": {"field": "val", "type": "quantitative", "stack": "zero", "scale": {"domain": [0, 1]}, "axis": null}, "order": {"field": "key", "sort": "ascending"}, "color": {"field": "key", "type": "nominal", "scale": {"domain": ["f","e","d","c","a","b"], "range": ["#008000","#90EE90","#FFFF00","#FFA500","#FA8072","#FF0000"]}}}}
    ]}}
  ]}
 ]}
]},
{"spacing": 0, "vconcat": [
 {"spacing": 0, "bounds": "flush", "hconcat": [
  {"width": 32, "height": 1, "data": {"values": []}, "mark": {"type": "point", "opacity": 0}},
  {"width": 90, "height": 1, "data": {"name": "cells"}, "transform": [{"filter": "datum.k=='C'"}], "mark": {"type": "tick", "opacity": 0}, "encoding": {"x": {"field": "p", "type": "ordinal", "scale": {"domain": ["1","5","10","25","50","75","90","95","99"], "paddingInner": 0, "paddingOuter": 0}, "axis": {"orient": "top", "title": "Percentage", "titleFontSize": 7, "titleFontWeight": "bold", "titleColor": "black", "titlePadding": 1, "labelFontSize": 6.2, "labelFontWeight": "bold", "labelColor": "black", "labelAngle": 0, "labelPadding": 2, "ticks": false, "domain": false}}}}
 ]},
 {"spacing": 6, "vconcat": [
  {"spacing": 0, "bounds": "flush", "hconcat": [
   {"width": 32, "height": {"step": 19}, "data": {"name": "cells"}, "transform": [{"filter": "datum.k=='C'"}, {"aggregate": [{"op": "count", "as": "n"}], "groupby": ["s"]}], "mark": {"type": "text", "fontWeight": "bold", "fontSize": 8.4, "color": "black"}, "encoding": {"y": {"field": "s", "type": "nominal", "scale": {"type": "band", "domain": ["28F","29","31","32A/F","33B","33C","33D","34","35B","35F","36","37","39","41A","41F","43","45","47A","47F","48"], "paddingInner": 0, "paddingOuter": 0}, "axis": null}, "text": {"field": "s"}}},
   {"data": {"name": "cells"}, "transform": [{"filter": "datum.k=='C'"}], "bounds": "flush", "facet": {"row": {"field": "s", "type": "nominal", "sort": ["28F","29","31","32A/F","33B","33C","33D","34","35B","35F","36","37","39","41A","41F","43","45","47A","47F","48"], "header": null}}, "spacing": {"row": 0},
    "spec": {"width": 90, "height": 19, "layer": [
     {"transform": [{"filter": "isValid(datum.p)"}], "mark": {"type": "bar", "color": "#008000", "stroke": "#1c1c1c", "strokeWidth": 0.7}, "encoding": {"x": {"field": "p", "type": "ordinal", "scale": {"domain": ["1","5","10","25","50","75","90","95","99"], "paddingInner": 0, "paddingOuter": 0}, "axis": null}, "y": {"datum": 1, "type": "quantitative", "scale": {"domain": [0, 1]}, "axis": null}}},
     {"transform": [{"filter": "isValid(datum.p)"}, {"fold": ["a","b","c","d","e"], "as": ["key","val"]}, {"filter": "datum.val > 0"}], "mark": {"type": "bar", "stroke": "#1c1c1c", "strokeWidth": 0.6}, "encoding": {"x": {"field": "p", "type": "ordinal", "scale": {"domain": ["1","5","10","25","50","75","90","95","99"], "paddingInner": 0, "paddingOuter": 0}, "axis": null}, "y": {"field": "val", "type": "quantitative", "stack": "zero", "scale": {"domain": [0, 1]}, "axis": null}, "order": {"field": "key", "sort": "ascending"}, "color": {"field": "key", "type": "nominal", "scale": {"domain": ["f","e","d","c","a","b"], "range": ["#008000","#90EE90","#FFFF00","#FFA500","#FA8072","#FF0000"]}}}}
    ]}}
  ]}
 ]}
]},
{"spacing": 0, "vconcat": [
 {"spacing": 0, "bounds": "flush", "hconcat": [
  {"width": 32, "height": 1, "data": {"values": []}, "mark": {"type": "point", "opacity": 0}},
  {"width": 90, "height": 1, "data": {"name": "cells"}, "transform": [{"filter": "datum.k=='D1'"}], "mark": {"type": "tick", "opacity": 0}, "encoding": {"x": {"field": "p", "type": "ordinal", "scale": {"domain": ["1","5","10","25","50","75","90","95","99"], "paddingInner": 0, "paddingOuter": 0}, "axis": {"orient": "top", "title": "Percentage", "titleFontSize": 7, "titleFontWeight": "bold", "titleColor": "black", "titlePadding": 1, "labelFontSize": 6.2, "labelFontWeight": "bold", "labelColor": "black", "labelAngle": 0, "labelPadding": 2, "ticks": false, "domain": false}}}}
 ]},
 {"spacing": 6, "vconcat": [
  {"spacing": 0, "bounds": "flush", "hconcat": [
   {"width": 32, "height": {"step": 19}, "data": {"name": "cells"}, "transform": [{"filter": "datum.k=='D1'"}, {"aggregate": [{"op": "count", "as": "n"}], "groupby": ["s"]}], "mark": {"type": "text", "fontWeight": "bold", "fontSize": 8.4, "color": "black"}, "encoding": {"y": {"field": "s", "type": "nominal", "scale": {"type": "band", "domain": ["6A","6B","6C","6D"], "paddingInner": 0, "paddingOuter": 0}, "axis": null}, "text": {"field": "s"}}},
   {"data": {"name": "cells"}, "transform": [{"filter": "datum.k=='D1'"}], "bounds": "flush", "facet": {"row": {"field": "s", "type": "nominal", "sort": ["6A","6B","6C","6D"], "header": null}}, "spacing": {"row": 0},
    "spec": {"width": 90, "height": 19, "layer": [
     {"transform": [{"filter": "isValid(datum.p)"}], "mark": {"type": "bar", "color": "#008000", "stroke": "#1c1c1c", "strokeWidth": 0.7}, "encoding": {"x": {"field": "p", "type": "ordinal", "scale": {"domain": ["1","5","10","25","50","75","90","95","99"], "paddingInner": 0, "paddingOuter": 0}, "axis": null}, "y": {"datum": 1, "type": "quantitative", "scale": {"domain": [0, 1]}, "axis": null}}},
     {"transform": [{"filter": "isValid(datum.p)"}, {"fold": ["a","b","c","d","e"], "as": ["key","val"]}, {"filter": "datum.val > 0"}], "mark": {"type": "bar", "stroke": "#1c1c1c", "strokeWidth": 0.6}, "encoding": {"x": {"field": "p", "type": "ordinal", "scale": {"domain": ["1","5","10","25","50","75","90","95","99"], "paddingInner": 0, "paddingOuter": 0}, "axis": null}, "y": {"field": "val", "type": "quantitative", "stack": "zero", "scale": {"domain": [0, 1]}, "axis": null}, "order": {"field": "key", "sort": "ascending"}, "color": {"field": "key", "type": "nominal", "scale": {"domain": ["f","e","d","c","a","b"], "range": ["#008000","#90EE90","#FFFF00","#FFA500","#FA8072","#FF0000"]}}}}
    ]}}
  ]},
  {"spacing": 0, "bounds": "flush", "hconcat": [
   {"width": 32, "height": {"step": 19}, "data": {"name": "cells"}, "transform": [{"filter": "datum.k=='D2'"}, {"aggregate": [{"op": "count", "as": "n"}], "groupby": ["s"]}], "mark": {"type": "text", "fontWeight": "bold", "fontSize": 8.4, "color": "black"}, "encoding": {"y": {"field": "s", "type": "nominal", "scale": {"type": "band", "domain": ["6E(6A)","6E(6B)"], "paddingInner": 0, "paddingOuter": 0}, "axis": null}, "text": {"field": "s"}}},
   {"data": {"name": "cells"}, "transform": [{"filter": "datum.k=='D2'"}], "bounds": "flush", "facet": {"row": {"field": "s", "type": "nominal", "sort": ["6E(6A)","6E(6B)"], "header": null}}, "spacing": {"row": 0},
    "spec": {"width": 90, "height": 19, "layer": [
     {"transform": [{"filter": "isValid(datum.p)"}], "mark": {"type": "bar", "color": "#008000", "stroke": "#1c1c1c", "strokeWidth": 0.7}, "encoding": {"x": {"field": "p", "type": "ordinal", "scale": {"domain": ["1","5","10","25","50","75","90","95","99"], "paddingInner": 0, "paddingOuter": 0}, "axis": null}, "y": {"datum": 1, "type": "quantitative", "scale": {"domain": [0, 1]}, "axis": null}}},
     {"transform": [{"filter": "isValid(datum.p)"}, {"fold": ["a","b","c","d","e"], "as": ["key","val"]}, {"filter": "datum.val > 0"}], "mark": {"type": "bar", "stroke": "#1c1c1c", "strokeWidth": 0.6}, "encoding": {"x": {"field": "p", "type": "ordinal", "scale": {"domain": ["1","5","10","25","50","75","90","95","99"], "paddingInner": 0, "paddingOuter": 0}, "axis": null}, "y": {"field": "val", "type": "quantitative", "stack": "zero", "scale": {"domain": [0, 1]}, "axis": null}, "order": {"field": "key", "sort": "ascending"}, "color": {"field": "key", "type": "nominal", "scale": {"domain": ["f","e","d","c","a","b"], "range": ["#008000","#90EE90","#FFFF00","#FFA500","#FA8072","#FF0000"]}}}}
    ]}}
  ]},
  {"spacing": 0, "bounds": "flush", "hconcat": [
   {"width": 32, "height": {"step": 19}, "data": {"name": "cells"}, "transform": [{"filter": "datum.k=='D3'"}, {"aggregate": [{"op": "count", "as": "n"}], "groupby": ["s"]}], "mark": {"type": "text", "fontWeight": "bold", "fontSize": 8.4, "color": "black"}, "encoding": {"y": {"field": "s", "type": "nominal", "scale": {"type": "band", "domain": ["7A","7F"], "paddingInner": 0, "paddingOuter": 0}, "axis": null}, "text": {"field": "s"}}},
   {"data": {"name": "cells"}, "transform": [{"filter": "datum.k=='D3'"}], "bounds": "flush", "facet": {"row": {"field": "s", "type": "nominal", "sort": ["7A","7F"], "header": null}}, "spacing": {"row": 0},
    "spec": {"width": 90, "height": 19, "layer": [
     {"transform": [{"filter": "isValid(datum.p)"}], "mark": {"type": "bar", "color": "#008000", "stroke": "#1c1c1c", "strokeWidth": 0.7}, "encoding": {"x": {"field": "p", "type": "ordinal", "scale": {"domain": ["1","5","10","25","50","75","90","95","99"], "paddingInner": 0, "paddingOuter": 0}, "axis": null}, "y": {"datum": 1, "type": "quantitative", "scale": {"domain": [0, 1]}, "axis": null}}},
     {"transform": [{"filter": "isValid(datum.p)"}, {"fold": ["a","b","c","d","e"], "as": ["key","val"]}, {"filter": "datum.val > 0"}], "mark": {"type": "bar", "stroke": "#1c1c1c", "strokeWidth": 0.6}, "encoding": {"x": {"field": "p", "type": "ordinal", "scale": {"domain": ["1","5","10","25","50","75","90","95","99"], "paddingInner": 0, "paddingOuter": 0}, "axis": null}, "y": {"field": "val", "type": "quantitative", "stack": "zero", "scale": {"domain": [0, 1]}, "axis": null}, "order": {"field": "key", "sort": "ascending"}, "color": {"field": "key", "type": "nominal", "scale": {"domain": ["f","e","d","c","a","b"], "range": ["#008000","#90EE90","#FFFF00","#FFA500","#FA8072","#FF0000"]}}}}
    ]}}
  ]},
  {"spacing": 0, "bounds": "flush", "hconcat": [
   {"width": 32, "height": {"step": 19}, "data": {"name": "cells"}, "transform": [{"filter": "datum.k=='D4'"}, {"aggregate": [{"op": "count", "as": "n"}], "groupby": ["s"]}], "mark": {"type": "text", "fontWeight": "bold", "fontSize": 8.4, "color": "black"}, "encoding": {"y": {"field": "s", "type": "nominal", "scale": {"type": "band", "domain": ["7B","40"], "paddingInner": 0, "paddingOuter": 0}, "axis": null}, "text": {"field": "s"}}},
   {"data": {"name": "cells"}, "transform": [{"filter": "datum.k=='D4'"}], "bounds": "flush", "facet": {"row": {"field": "s", "type": "nominal", "sort": ["7B","40"], "header": null}}, "spacing": {"row": 0},
    "spec": {"width": 90, "height": 19, "layer": [
     {"transform": [{"filter": "isValid(datum.p)"}], "mark": {"type": "bar", "color": "#008000", "stroke": "#1c1c1c", "strokeWidth": 0.7}, "encoding": {"x": {"field": "p", "type": "ordinal", "scale": {"domain": ["1","5","10","25","50","75","90","95","99"], "paddingInner": 0, "paddingOuter": 0}, "axis": null}, "y": {"datum": 1, "type": "quantitative", "scale": {"domain": [0, 1]}, "axis": null}}},
     {"transform": [{"filter": "isValid(datum.p)"}, {"fold": ["a","b","c","d","e"], "as": ["key","val"]}, {"filter": "datum.val > 0"}], "mark": {"type": "bar", "stroke": "#1c1c1c", "strokeWidth": 0.6}, "encoding": {"x": {"field": "p", "type": "ordinal", "scale": {"domain": ["1","5","10","25","50","75","90","95","99"], "paddingInner": 0, "paddingOuter": 0}, "axis": null}, "y": {"field": "val", "type": "quantitative", "stack": "zero", "scale": {"domain": [0, 1]}, "axis": null}, "order": {"field": "key", "sort": "ascending"}, "color": {"field": "key", "type": "nominal", "scale": {"domain": ["f","e","d","c","a","b"], "range": ["#008000","#90EE90","#FFFF00","#FFA500","#FA8072","#FF0000"]}}}}
    ]}}
  ]},
  {"spacing": 0, "bounds": "flush", "hconcat": [
   {"width": 32, "height": {"step": 19}, "data": {"name": "cells"}, "transform": [{"filter": "datum.k=='D5'"}, {"aggregate": [{"op": "count", "as": "n"}], "groupby": ["s"]}], "mark": {"type": "text", "fontWeight": "bold", "fontSize": 8.4, "color": "black"}, "encoding": {"y": {"field": "s", "type": "nominal", "scale": {"type": "band", "domain": ["9A","9V"], "paddingInner": 0, "paddingOuter": 0}, "axis": null}, "text": {"field": "s"}}},
   {"data": {"name": "cells"}, "transform": [{"filter": "datum.k=='D5'"}], "bounds": "flush", "facet": {"row": {"field": "s", "type": "nominal", "sort": ["9A","9V"], "header": null}}, "spacing": {"row": 0},
    "spec": {"width": 90, "height": 19, "layer": [
     {"transform": [{"filter": "isValid(datum.p)"}], "mark": {"type": "bar", "color": "#008000", "stroke": "#1c1c1c", "strokeWidth": 0.7}, "encoding": {"x": {"field": "p", "type": "ordinal", "scale": {"domain": ["1","5","10","25","50","75","90","95","99"], "paddingInner": 0, "paddingOuter": 0}, "axis": null}, "y": {"datum": 1, "type": "quantitative", "scale": {"domain": [0, 1]}, "axis": null}}},
     {"transform": [{"filter": "isValid(datum.p)"}, {"fold": ["a","b","c","d","e"], "as": ["key","val"]}, {"filter": "datum.val > 0"}], "mark": {"type": "bar", "stroke": "#1c1c1c", "strokeWidth": 0.6}, "encoding": {"x": {"field": "p", "type": "ordinal", "scale": {"domain": ["1","5","10","25","50","75","90","95","99"], "paddingInner": 0, "paddingOuter": 0}, "axis": null}, "y": {"field": "val", "type": "quantitative", "stack": "zero", "scale": {"domain": [0, 1]}, "axis": null}, "order": {"field": "key", "sort": "ascending"}, "color": {"field": "key", "type": "nominal", "scale": {"domain": ["f","e","d","c","a","b"], "range": ["#008000","#90EE90","#FFFF00","#FFA500","#FA8072","#FF0000"]}}}}
    ]}}
  ]},
  {"spacing": 0, "bounds": "flush", "hconcat": [
   {"width": 32, "height": {"step": 19}, "data": {"name": "cells"}, "transform": [{"filter": "datum.k=='D6'"}, {"aggregate": [{"op": "count", "as": "n"}], "groupby": ["s"]}], "mark": {"type": "text", "fontWeight": "bold", "fontSize": 8.4, "color": "black"}, "encoding": {"y": {"field": "s", "type": "nominal", "scale": {"type": "band", "domain": ["11A","11D"], "paddingInner": 0, "paddingOuter": 0}, "axis": null}, "text": {"field": "s"}}},
   {"data": {"name": "cells"}, "transform": [{"filter": "datum.k=='D6'"}], "bounds": "flush", "facet": {"row": {"field": "s", "type": "nominal", "sort": ["11A","11D"], "header": null}}, "spacing": {"row": 0},
    "spec": {"width": 90, "height": 19, "layer": [
     {"transform": [{"filter": "isValid(datum.p)"}], "mark": {"type": "bar", "color": "#008000", "stroke": "#1c1c1c", "strokeWidth": 0.7}, "encoding": {"x": {"field": "p", "type": "ordinal", "scale": {"domain": ["1","5","10","25","50","75","90","95","99"], "paddingInner": 0, "paddingOuter": 0}, "axis": null}, "y": {"datum": 1, "type": "quantitative", "scale": {"domain": [0, 1]}, "axis": null}}},
     {"transform": [{"filter": "isValid(datum.p)"}, {"fold": ["a","b","c","d","e"], "as": ["key","val"]}, {"filter": "datum.val > 0"}], "mark": {"type": "bar", "stroke": "#1c1c1c", "strokeWidth": 0.6}, "encoding": {"x": {"field": "p", "type": "ordinal", "scale": {"domain": ["1","5","10","25","50","75","90","95","99"], "paddingInner": 0, "paddingOuter": 0}, "axis": null}, "y": {"field": "val", "type": "quantitative", "stack": "zero", "scale": {"domain": [0, 1]}, "axis": null}, "order": {"field": "key", "sort": "ascending"}, "color": {"field": "key", "type": "nominal", "scale": {"domain": ["f","e","d","c","a","b"], "range": ["#008000","#90EE90","#FFFF00","#FFA500","#FA8072","#FF0000"]}}}}
    ]}}
  ]},
  {"spacing": 0, "bounds": "flush", "hconcat": [
   {"width": 32, "height": {"step": 19}, "data": {"name": "cells"}, "transform": [{"filter": "datum.k=='D7'"}, {"aggregate": [{"op": "count", "as": "n"}], "groupby": ["s"]}], "mark": {"type": "text", "fontWeight": "bold", "fontSize": 8.4, "color": "black"}, "encoding": {"y": {"field": "s", "type": "nominal", "scale": {"type": "band", "domain": ["11B","11C"], "paddingInner": 0, "paddingOuter": 0}, "axis": null}, "text": {"field": "s"}}},
   {"data": {"name": "cells"}, "transform": [{"filter": "datum.k=='D7'"}], "bounds": "flush", "facet": {"row": {"field": "s", "type": "nominal", "sort": ["11B","11C"], "header": null}}, "spacing": {"row": 0},
    "spec": {"width": 90, "height": 19, "layer": [
     {"transform": [{"filter": "isValid(datum.p)"}], "mark": {"type": "bar", "color": "#008000", "stroke": "#1c1c1c", "strokeWidth": 0.7}, "encoding": {"x": {"field": "p", "type": "ordinal", "scale": {"domain": ["1","5","10","25","50","75","90","95","99"], "paddingInner": 0, "paddingOuter": 0}, "axis": null}, "y": {"datum": 1, "type": "quantitative", "scale": {"domain": [0, 1]}, "axis": null}}},
     {"transform": [{"filter": "isValid(datum.p)"}, {"fold": ["a","b","c","d","e"], "as": ["key","val"]}, {"filter": "datum.val > 0"}], "mark": {"type": "bar", "stroke": "#1c1c1c", "strokeWidth": 0.6}, "encoding": {"x": {"field": "p", "type": "ordinal", "scale": {"domain": ["1","5","10","25","50","75","90","95","99"], "paddingInner": 0, "paddingOuter": 0}, "axis": null}, "y": {"field": "val", "type": "quantitative", "stack": "zero", "scale": {"domain": [0, 1]}, "axis": null}, "order": {"field": "key", "sort": "ascending"}, "color": {"field": "key", "type": "nominal", "scale": {"domain": ["f","e","d","c","a","b"], "range": ["#008000","#90EE90","#FFFF00","#FFA500","#FA8072","#FF0000"]}}}}
    ]}}
  ]}
 ]}
]},
{"spacing": 0, "vconcat": [
 {"spacing": 0, "bounds": "flush", "hconcat": [
  {"width": 32, "height": 1, "data": {"values": []}, "mark": {"type": "point", "opacity": 0}},
  {"width": 90, "height": 1, "data": {"name": "cells"}, "transform": [{"filter": "datum.k=='E1'"}], "mark": {"type": "tick", "opacity": 0}, "encoding": {"x": {"field": "p", "type": "ordinal", "scale": {"domain": ["1","5","10","25","50","75","90","95","99"], "paddingInner": 0, "paddingOuter": 0}, "axis": {"orient": "top", "title": "Percentage", "titleFontSize": 7, "titleFontWeight": "bold", "titleColor": "black", "titlePadding": 1, "labelFontSize": 6.2, "labelFontWeight": "bold", "labelColor": "black", "labelAngle": 0, "labelPadding": 2, "ticks": false, "domain": false}}}}
 ]},
 {"spacing": 6, "vconcat": [
  {"spacing": 0, "bounds": "flush", "hconcat": [
   {"width": 32, "height": {"step": 19}, "data": {"name": "cells"}, "transform": [{"filter": "datum.k=='E1'"}, {"aggregate": [{"op": "count", "as": "n"}], "groupby": ["s"]}], "mark": {"type": "text", "fontWeight": "bold", "fontSize": 8.4, "color": "black"}, "encoding": {"y": {"field": "s", "type": "nominal", "scale": {"type": "band", "domain": ["12A","12B","12F","44","46"], "paddingInner": 0, "paddingOuter": 0}, "axis": null}, "text": {"field": "s"}}},
   {"data": {"name": "cells"}, "transform": [{"filter": "datum.k=='E1'"}], "bounds": "flush", "facet": {"row": {"field": "s", "type": "nominal", "sort": ["12A","12B","12F","44","46"], "header": null}}, "spacing": {"row": 0},
    "spec": {"width": 90, "height": 19, "layer": [
     {"transform": [{"filter": "isValid(datum.p)"}], "mark": {"type": "bar", "color": "#008000", "stroke": "#1c1c1c", "strokeWidth": 0.7}, "encoding": {"x": {"field": "p", "type": "ordinal", "scale": {"domain": ["1","5","10","25","50","75","90","95","99"], "paddingInner": 0, "paddingOuter": 0}, "axis": null}, "y": {"datum": 1, "type": "quantitative", "scale": {"domain": [0, 1]}, "axis": null}}},
     {"transform": [{"filter": "isValid(datum.p)"}, {"fold": ["a","b","c","d","e"], "as": ["key","val"]}, {"filter": "datum.val > 0"}], "mark": {"type": "bar", "stroke": "#1c1c1c", "strokeWidth": 0.6}, "encoding": {"x": {"field": "p", "type": "ordinal", "scale": {"domain": ["1","5","10","25","50","75","90","95","99"], "paddingInner": 0, "paddingOuter": 0}, "axis": null}, "y": {"field": "val", "type": "quantitative", "stack": "zero", "scale": {"domain": [0, 1]}, "axis": null}, "order": {"field": "key", "sort": "ascending"}, "color": {"field": "key", "type": "nominal", "scale": {"domain": ["f","e","d","c","a","b"], "range": ["#008000","#90EE90","#FFFF00","#FFA500","#FA8072","#FF0000"]}}}}
    ]}}
  ]},
  {"spacing": 0, "bounds": "flush", "hconcat": [
   {"width": 32, "height": {"step": 19}, "data": {"name": "cells"}, "transform": [{"filter": "datum.k=='E2'"}, {"aggregate": [{"op": "count", "as": "n"}], "groupby": ["s"]}], "mark": {"type": "text", "fontWeight": "bold", "fontSize": 8.4, "color": "black"}, "encoding": {"y": {"field": "s", "type": "nominal", "scale": {"type": "band", "domain": ["18B","18C","18F"], "paddingInner": 0, "paddingOuter": 0}, "axis": null}, "text": {"field": "s"}}},
   {"data": {"name": "cells"}, "transform": [{"filter": "datum.k=='E2'"}], "bounds": "flush", "facet": {"row": {"field": "s", "type": "nominal", "sort": ["18B","18C","18F"], "header": null}}, "spacing": {"row": 0},
    "spec": {"width": 90, "height": 19, "layer": [
     {"transform": [{"filter": "isValid(datum.p)"}], "mark": {"type": "bar", "color": "#008000", "stroke": "#1c1c1c", "strokeWidth": 0.7}, "encoding": {"x": {"field": "p", "type": "ordinal", "scale": {"domain": ["1","5","10","25","50","75","90","95","99"], "paddingInner": 0, "paddingOuter": 0}, "axis": null}, "y": {"datum": 1, "type": "quantitative", "scale": {"domain": [0, 1]}, "axis": null}}},
     {"transform": [{"filter": "isValid(datum.p)"}, {"fold": ["a","b","c","d","e"], "as": ["key","val"]}, {"filter": "datum.val > 0"}], "mark": {"type": "bar", "stroke": "#1c1c1c", "strokeWidth": 0.6}, "encoding": {"x": {"field": "p", "type": "ordinal", "scale": {"domain": ["1","5","10","25","50","75","90","95","99"], "paddingInner": 0, "paddingOuter": 0}, "axis": null}, "y": {"field": "val", "type": "quantitative", "stack": "zero", "scale": {"domain": [0, 1]}, "axis": null}, "order": {"field": "key", "sort": "ascending"}, "color": {"field": "key", "type": "nominal", "scale": {"domain": ["f","e","d","c","a","b"], "range": ["#008000","#90EE90","#FFFF00","#FFA500","#FA8072","#FF0000"]}}}}
    ]}}
  ]},
  {"spacing": 0, "bounds": "flush", "hconcat": [
   {"width": 32, "height": {"step": 19}, "data": {"name": "cells"}, "transform": [{"filter": "datum.k=='E3'"}, {"aggregate": [{"op": "count", "as": "n"}], "groupby": ["s"]}], "mark": {"type": "text", "fontWeight": "bold", "fontSize": 8.4, "color": "black"}, "encoding": {"y": {"field": "s", "type": "nominal", "scale": {"type": "band", "domain": ["25A","25F","38"], "paddingInner": 0, "paddingOuter": 0}, "axis": null}, "text": {"field": "s"}}},
   {"data": {"name": "cells"}, "transform": [{"filter": "datum.k=='E3'"}], "bounds": "flush", "facet": {"row": {"field": "s", "type": "nominal", "sort": ["25A","25F","38"], "header": null}}, "spacing": {"row": 0},
    "spec": {"width": 90, "height": 19, "layer": [
     {"transform": [{"filter": "isValid(datum.p)"}], "mark": {"type": "bar", "color": "#008000", "stroke": "#1c1c1c", "strokeWidth": 0.7}, "encoding": {"x": {"field": "p", "type": "ordinal", "scale": {"domain": ["1","5","10","25","50","75","90","95","99"], "paddingInner": 0, "paddingOuter": 0}, "axis": null}, "y": {"datum": 1, "type": "quantitative", "scale": {"domain": [0, 1]}, "axis": null}}},
     {"transform": [{"filter": "isValid(datum.p)"}, {"fold": ["a","b","c","d","e"], "as": ["key","val"]}, {"filter": "datum.val > 0"}], "mark": {"type": "bar", "stroke": "#1c1c1c", "strokeWidth": 0.6}, "encoding": {"x": {"field": "p", "type": "ordinal", "scale": {"domain": ["1","5","10","25","50","75","90","95","99"], "paddingInner": 0, "paddingOuter": 0}, "axis": null}, "y": {"field": "val", "type": "quantitative", "stack": "zero", "scale": {"domain": [0, 1]}, "axis": null}, "order": {"field": "key", "sort": "ascending"}, "color": {"field": "key", "type": "nominal", "scale": {"domain": ["f","e","d","c","a","b"], "range": ["#008000","#90EE90","#FFFF00","#FFA500","#FA8072","#FF0000"]}}}}
    ]}}
  ]},
  {"spacing": 0, "bounds": "flush", "hconcat": [
   {"width": 32, "height": {"step": 19}, "data": {"name": "cells"}, "transform": [{"filter": "datum.k=='E4'"}, {"aggregate": [{"op": "count", "as": "n"}], "groupby": ["s"]}], "mark": {"type": "text", "fontWeight": "bold", "fontSize": 8.4, "color": "black"}, "encoding": {"y": {"field": "s", "type": "nominal", "scale": {"type": "band", "domain": ["33A","33F","37"], "paddingInner": 0, "paddingOuter": 0}, "axis": null}, "text": {"field": "s"}}},
   {"data": {"name": "cells"}, "transform": [{"filter": "datum.k=='E4'"}], "bounds": "flush", "facet": {"row": {"field": "s", "type": "nominal", "sort": ["33A","33F","37"], "header": null}}, "spacing": {"row": 0},
    "spec": {"width": 90, "height": 19, "layer": [
     {"transform": [{"filter": "isValid(datum.p)"}], "mark": {"type": "bar", "color": "#008000", "stroke": "#1c1c1c", "strokeWidth": 0.7}, "encoding": {"x": {"field": "p", "type": "ordinal", "scale": {"domain": ["1","5","10","25","50","75","90","95","99"], "paddingInner": 0, "paddingOuter": 0}, "axis": null}, "y": {"datum": 1, "type": "quantitative", "scale": {"domain": [0, 1]}, "axis": null}}},
     {"transform": [{"filter": "isValid(datum.p)"}, {"fold": ["a","b","c","d","e"], "as": ["key","val"]}, {"filter": "datum.val > 0"}], "mark": {"type": "bar", "stroke": "#1c1c1c", "strokeWidth": 0.6}, "encoding": {"x": {"field": "p", "type": "ordinal", "scale": {"domain": ["1","5","10","25","50","75","90","95","99"], "paddingInner": 0, "paddingOuter": 0}, "axis": null}, "y": {"field": "val", "type": "quantitative", "stack": "zero", "scale": {"domain": [0, 1]}, "axis": null}, "order": {"field": "key", "sort": "ascending"}, "color": {"field": "key", "type": "nominal", "scale": {"domain": ["f","e","d","c","a","b"], "range": ["#008000","#90EE90","#FFFF00","#FFA500","#FA8072","#FF0000"]}}}}
    ]}}
  ]},
  {"spacing": 0, "bounds": "flush", "hconcat": [
   {"width": 32, "height": {"step": 19}, "data": {"name": "cells"}, "transform": [{"filter": "datum.k=='E5'"}, {"aggregate": [{"op": "count", "as": "n"}], "groupby": ["s"]}], "mark": {"type": "text", "fontWeight": "bold", "fontSize": 8.4, "color": "black"}, "encoding": {"y": {"field": "s", "type": "nominal", "scale": {"type": "band", "domain": ["35A","35C","42"], "paddingInner": 0, "paddingOuter": 0}, "axis": null}, "text": {"field": "s"}}},
   {"data": {"name": "cells"}, "transform": [{"filter": "datum.k=='E5'"}], "bounds": "flush", "facet": {"row": {"field": "s", "type": "nominal", "sort": ["35A","35C","42"], "header": null}}, "spacing": {"row": 0},
    "spec": {"width": 90, "height": 19, "layer": [
     {"transform": [{"filter": "isValid(datum.p)"}], "mark": {"type": "bar", "color": "#008000", "stroke": "#1c1c1c", "strokeWidth": 0.7}, "encoding": {"x": {"field": "p", "type": "ordinal", "scale": {"domain": ["1","5","10","25","50","75","90","95","99"], "paddingInner": 0, "paddingOuter": 0}, "axis": null}, "y": {"datum": 1, "type": "quantitative", "scale": {"domain": [0, 1]}, "axis": null}}},
     {"transform": [{"filter": "isValid(datum.p)"}, {"fold": ["a","b","c","d","e"], "as": ["key","val"]}, {"filter": "datum.val > 0"}], "mark": {"type": "bar", "stroke": "#1c1c1c", "strokeWidth": 0.6}, "encoding": {"x": {"field": "p", "type": "ordinal", "scale": {"domain": ["1","5","10","25","50","75","90","95","99"], "paddingInner": 0, "paddingOuter": 0}, "axis": null}, "y": {"field": "val", "type": "quantitative", "stack": "zero", "scale": {"domain": [0, 1]}, "axis": null}, "order": {"field": "key", "sort": "ascending"}, "color": {"field": "key", "type": "nominal", "scale": {"domain": ["f","e","d","c","a","b"], "range": ["#008000","#90EE90","#FFFF00","#FFA500","#FA8072","#FF0000"]}}}}
    ]}}
  ]}
 ]}
]}
]
}
